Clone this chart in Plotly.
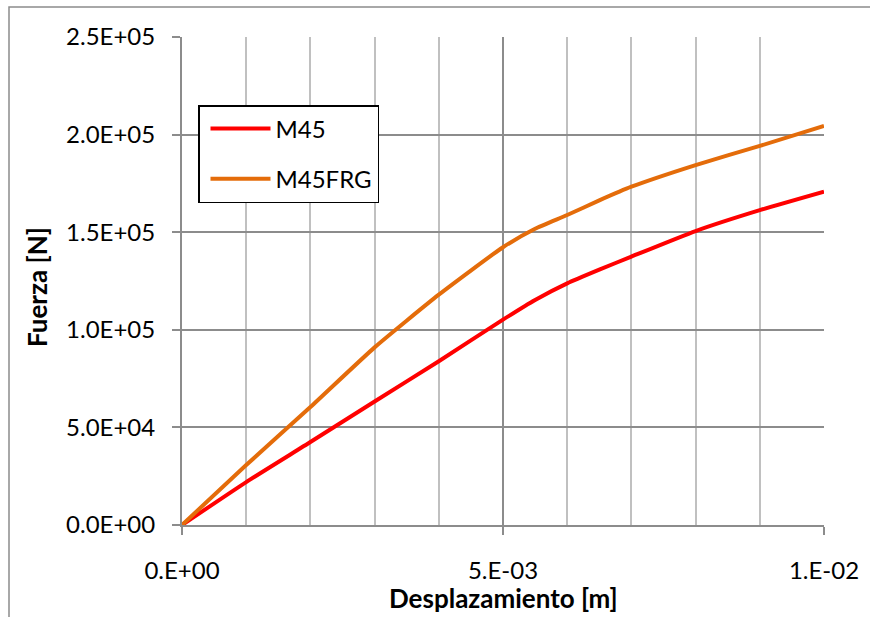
import plotly.graph_objects as go

# Data
disp = [0.0, 0.001, 0.002, 0.003, 0.004, 0.005, 0.0055, 0.006, 0.0065, 0.007, 0.008, 0.009, 0.010]
m45 = [0, 22000, 42500, 63300, 83900, 105200, 115300, 123800, 130800, 137500, 150600, 161300, 170800]
m45frg = [0, 30700, 60400, 91000, 118000, 142300, 151800, 158800, 166300, 173300, 184400, 194200, 204400]

x_tickvals = [0.0, 0.005, 0.01]
x_ticktext = ["0.E+00", "5.E-03", "1.E-02"]
y_tickvals = [0, 50000, 100000, 150000, 200000, 250000]
y_ticktext = ["0.0E+00", "5.0E+04", "1.0E+05", "1.5E+05", "2.0E+05", "2.5E+05"]

FONT = "Lato, 'Open Sans', sans-serif"
TICK = 24
TITLE = 26

fig = go.Figure()
fig.add_trace(go.Scatter(x=disp, y=m45, mode="lines", name="M45",
                         line=dict(color="#FF0000", width=4, shape="spline", smoothing=0.5),
                         legendgroup="a"))
fig.add_trace(go.Scatter(x=disp, y=m45frg, mode="lines", name="M45FRG",
                         line=dict(color="#E46C0A", width=4, shape="spline", smoothing=0.5),
                         legendgroup="b"))

fig.update_layout(
    width=870, height=617,
    margin=dict(l=182, r=46, t=37, b=92),
    paper_bgcolor="white", plot_bgcolor="white",
    font=dict(family=FONT, size=TICK, color="black"),
    showlegend=True,
    legend=dict(x=(198 - 182) / 642, y=(525 - 105) / 488, xanchor="left", yanchor="top",
                bordercolor="black", borderwidth=1.5, bgcolor="white",
                font=dict(size=TICK), tracegroupgap=16, itemwidth=60,
                indentation=6, traceorder="grouped"),
    xaxis=dict(range=[0, 0.01], tickvals=x_tickvals, ticktext=x_ticktext,
               showgrid=True, gridcolor="#8C8C8C", gridwidth=1.5,
               showline=True, linecolor="#8C8C8C", linewidth=2,
               ticks="outside", ticklen=8, tickcolor="#8C8C8C", tickwidth=1.5,
               ticklabelstandoff=15,
               minor=dict(dtick=0.001, showgrid=True, gridcolor="#C0C0C0", gridwidth=1.5, ticks=""),
               zeroline=False,
               tickfont=dict(size=TICK)),
    yaxis=dict(range=[0, 250000], tickvals=y_tickvals, ticktext=y_ticktext,
               showgrid=True, gridcolor="#8C8C8C", gridwidth=1.5,
               showline=True, linecolor="#8C8C8C", linewidth=2,
               ticks="outside", ticklen=8, tickcolor="#8C8C8C", tickwidth=1.5,
               ticklabelstandoff=12,
               zeroline=False,
               tickfont=dict(size=TICK)),
)

# axis titles
fig.add_annotation(text="<b>Desplazamiento [m]</b>", xref="paper", yref="paper",
                   x=(503 - 182) / 642, y=(525 - 598) / 488, xanchor="center", yanchor="middle",
                   showarrow=False, font=dict(size=TITLE))
fig.add_annotation(text="<b>Fuerza [N]</b>", xref="paper", yref="paper",
                   x=(37 - 182) / 642, y=(525 - 287) / 488, xanchor="center", yanchor="middle",
                   textangle=-90, showarrow=False, font=dict(size=TITLE))

# outer chart frame (partially cut off, as in the reference)
fig.add_shape(type="rect", xref="paper", yref="paper",
              x0=(9 - 182) / 642, x1=1.3, y0=-0.4, y1=(525 - 7) / 488,
              line=dict(color="#8C8C8C", width=1.5), layer="below")

fig.write_html("out.html", config={"displayModeBar": False},
               post_script="document.body.style.margin='0';")
